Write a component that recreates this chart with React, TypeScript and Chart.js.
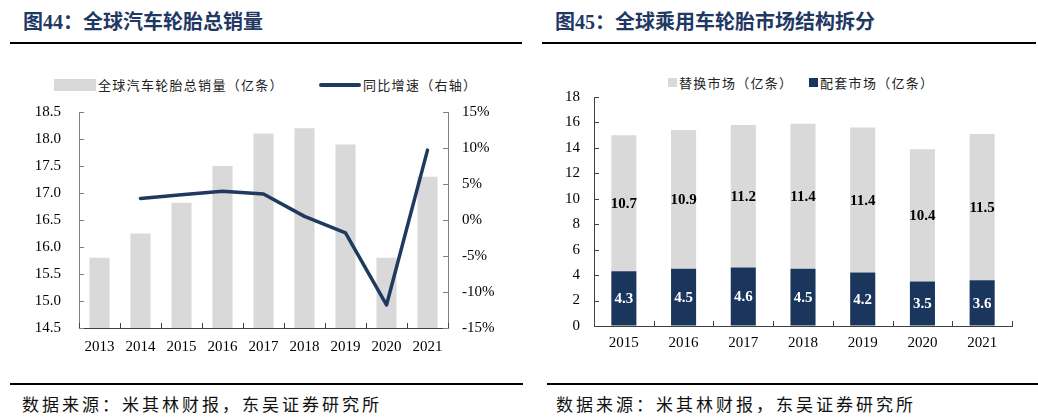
import React, { useEffect, useRef } from "react";
import { Chart, registerables } from "chart.js";

Chart.register(...registerables);

// ---------- Data ----------
const salesYears = ["2013", "2014", "2015", "2016", "2017", "2018", "2019", "2020", "2021"];
const totalSales = [15.8, 16.25, 16.82, 17.5, 18.1, 18.2, 17.9, 15.8, 17.3];
const salesGrowth = [null, 3.0, 3.5, 4.0, 3.6, 0.5, -1.8, -11.8, 9.7];

const marketYears = ["2015", "2016", "2017", "2018", "2019", "2020", "2021"];
const replacementMarket = [10.7, 10.9, 11.2, 11.4, 11.4, 10.4, 11.5];
const oemMarket = [4.3, 4.5, 4.6, 4.5, 4.2, 3.5, 3.6];

const title1 = "图44：全球汽车轮胎总销量";
const title2 = "图45：全球乘用车轮胎市场结构拆分";
const sourceText = "数据来源：米其林财报，东吴证券研究所";
const legendSales = "全球汽车轮胎总销量（亿条）";
const legendGrowth = "同比增速（右轴）";
const legendReplacement = "替换市场（亿条）";
const legendOem = "配套市场（亿条）";

// ---------- Styles ----------
const NAVY = "#1f3a5f";
const GREY = "#d9d9d9";
const SERIF = '"Liberation Serif", "Times New Roman", serif';
const CJK = '"Noto Sans CJK SC", "Noto Sans", sans-serif';

const inwardTicks = {
  id: "inwardTicks",
  afterDatasetsDraw(chart: any) {
    const ctx = chart.ctx;
    const len = 5;
    ctx.save();
    ctx.lineWidth = 1;
    Object.values(chart.scales).forEach((s: any) => {
      ctx.strokeStyle = s.options.border.color;
      ctx.beginPath();
      if (s.axis === "x") {
        const n = s.ticks.length;
        for (let i = 0; i <= n; i++) {
          const x = Math.round(s.getPixelForValue(i - 0.5)) + 0.5;
          ctx.moveTo(x, s.top);
          ctx.lineTo(x, s.top - len);
        }
      } else {
        const left = s.position === "left";
        s.ticks.forEach((_t: any, i: number) => {
          const y = Math.round(s.getPixelForTick(i)) + 0.5;
          const x = left ? s.right : s.left;
          ctx.moveTo(x, y);
          ctx.lineTo(left ? x + len : x - len, y);
        });
      }
      ctx.stroke();
    });
    ctx.restore();
  },
};

const barLabels = {
  id: "barLabels",
  afterDatasetsDraw(chart: any) {
    const ctx = chart.ctx;
    ctx.save();
    ctx.font = `bold 15px ${SERIF}`;
    ctx.textAlign = "center";
    ctx.textBaseline = "middle";
    chart.data.datasets.forEach((ds: any, di: number) => {
      const meta = chart.getDatasetMeta(di);
      ctx.fillStyle = ds.labelColor;
      meta.data.forEach((el: any, i: number) => {
        const p = el.getProps(["x", "y", "base"], true);
        ctx.fillText(ds.data[i].toFixed(1), p.x, (p.y + p.base) / 2 + 1);
      });
    });
    ctx.restore();
  },
};

function SalesChart() {
  const ref = useRef<HTMLCanvasElement | null>(null);
  useEffect(() => {
    if (!ref.current) return;
    const chart = new Chart(ref.current, {
      type: "bar",
      data: {
        labels: salesYears,
        datasets: [
          {
            type: "line",
            label: legendGrowth,
            data: salesGrowth as any,
            yAxisID: "y1",
            borderColor: NAVY,
            borderWidth: 3.5,
            pointRadius: 0,
            tension: 0,
            spanGaps: false,
            borderJoinStyle: "round",
            borderCapStyle: "round",
            order: 0,
          } as any,
          {
            type: "bar",
            label: legendSales,
            data: totalSales,
            yAxisID: "y",
            backgroundColor: GREY,
            barPercentage: 0.49,
            categoryPercentage: 1,
            order: 1,
          },
        ],
      },
      options: {
        responsive: false,
        animation: false,
        layout: { padding: { top: 0, bottom: 0, left: 0, right: 0 } },
        plugins: { legend: { display: false }, tooltip: { enabled: false } },
        scales: {
          x: {
            offset: true,
            grid: { display: true, drawOnChartArea: false, drawTicks: false, offset: true },
            border: { color: "#404040", width: 1 },
            ticks: { font: { family: SERIF, size: 15 }, color: "#000", padding: 10, maxRotation: 0 },
            afterFit: (s: any) => { s.height = 30; },
          },
          y: {
            position: "left",
            min: 14.5,
            max: 18.5,
            grid: { display: true, drawOnChartArea: false, drawTicks: false },
            border: { color: "#808080", width: 1 },
            ticks: {
              stepSize: 0.5,
              font: { family: SERIF, size: 15 },
              color: "#000",
              padding: 18,
              callback: (v: any) => Number(v).toFixed(1),
            },
            afterFit: (s: any) => { s.width = 69; },
          },
          y1: {
            position: "right",
            min: -15,
            max: 15,
            grid: { display: true, drawOnChartArea: false, drawTicks: false },
            border: { color: "#808080", width: 1 },
            ticks: {
              stepSize: 5,
              font: { family: SERIF, size: 15 },
              color: "#000",
              padding: 14,
              callback: (v: any) => `${v}%`,
            },
            afterFit: (s: any) => { s.width = 62; },
          },
        },
      },
      plugins: [inwardTicks],
    });
    return () => chart.destroy();
  }, []);
  return (
    <canvas
      ref={ref}
      width={500}
      height={273}
      style={{ position: "absolute", left: 10, top: 85, width: 500, height: 273 }}
    />
  );
}

function MarketChart() {
  const ref = useRef<HTMLCanvasElement | null>(null);
  useEffect(() => {
    if (!ref.current) return;
    const chart = new Chart(ref.current, {
      type: "bar",
      data: {
        labels: marketYears,
        datasets: [
          {
            label: legendOem,
            data: oemMarket,
            backgroundColor: "#1b365d",
            barPercentage: 0.42,
            categoryPercentage: 1,
            labelColor: "#ffffff",
          } as any,
          {
            label: legendReplacement,
            data: replacementMarket,
            backgroundColor: GREY,
            barPercentage: 0.42,
            categoryPercentage: 1,
            labelColor: "#000000",
          } as any,
        ],
      },
      options: {
        responsive: false,
        animation: false,
        layout: { padding: { top: 0, bottom: 0, left: 0, right: 18 } },
        plugins: { legend: { display: false }, tooltip: { enabled: false } },
        scales: {
          x: {
            stacked: true,
            offset: true,
            grid: { display: true, drawOnChartArea: false, drawTicks: false, offset: true },
            border: { color: "#404040", width: 1 },
            ticks: { font: { family: SERIF, size: 15 }, color: "#000", padding: 8, maxRotation: 0 },
            afterFit: (s: any) => { s.height = 30; },
          },
          y: {
            stacked: true,
            position: "left",
            min: 0,
            max: 18,
            grid: { display: true, drawOnChartArea: false, drawTicks: false },
            border: { color: "#404040", width: 1 },
            ticks: {
              stepSize: 2,
              font: { family: SERIF, size: 15 },
              color: "#000",
              padding: 14,
            },
            afterFit: (s: any) => { s.width = 44; },
          },
        },
      },
      plugins: [inwardTicks, barLabels],
    });
    return () => chart.destroy();
  }, []);
  return (
    <canvas
      ref={ref}
      width={480}
      height={282}
      style={{ position: "absolute", left: 550, top: 74, width: 480, height: 282 }}
    />
  );
}

const titleStyle: React.CSSProperties = {
  position: "absolute",
  top: 10,
  fontFamily: `${SERIF.split(",")[0]}, ${CJK}`,
  fontWeight: "bold",
  fontSize: 20,
  lineHeight: "24px",
  color: "#1f3864",
  whiteSpace: "nowrap",
};

const legendText: React.CSSProperties = {
  position: "absolute",
  fontFamily: CJK,
  fontSize: 13,
  lineHeight: "16px",
  letterSpacing: 1.3,
  color: "#222",
  whiteSpace: "nowrap",
};

const sourceStyle: React.CSSProperties = {
  position: "absolute",
  top: 393,
  fontFamily: CJK,
  fontSize: 17,
  lineHeight: "22px",
  letterSpacing: 3,
  color: "#111",
  whiteSpace: "nowrap",
};

function Rule({ left, width, top }: { left: number; width: number; top: number }) {
  return <div style={{ position: "absolute", left, width, top, height: 2, background: "#000" }} />;
}

export default function App() {
  return (
    <div
      style={{
        position: "absolute",
        left: 0,
        top: 0,
        width: 1038,
        height: 418,
        background: "#fff",
        overflow: "hidden",
      }}
    >
      <div style={{ ...titleStyle, left: 23 }}>{title1}</div>
      <div style={{ ...titleStyle, left: 555 }}>{title2}</div>
      <Rule left={10} width={512} top={42} />
      <Rule left={542} width={494} top={42} />

      {/* Left legend */}
      <div style={{ position: "absolute", left: 54, top: 79, width: 42, height: 12, background: GREY }} />
      <div style={{ ...legendText, left: 98, top: 77 }}>{legendSales}</div>
      <div
        style={{
          position: "absolute",
          left: 319,
          top: 83,
          width: 42,
          height: 4,
          borderRadius: 2,
          background: NAVY,
        }}
      />
      <div style={{ ...legendText, left: 363, top: 77 }}>{legendGrowth}</div>

      {/* Right legend */}
      <div style={{ position: "absolute", left: 668, top: 78, width: 9, height: 9, background: GREY }} />
      <div style={{ ...legendText, left: 679, top: 75 }}>{legendReplacement}</div>
      <div style={{ position: "absolute", left: 809, top: 78, width: 9, height: 9, background: "#1b365d" }} />
      <div style={{ ...legendText, left: 820, top: 75 }}>{legendOem}</div>

      <SalesChart />
      <MarketChart />

      <Rule left={10} width={513} top={383} />
      <Rule left={547} width={491} top={383} />
      <div style={{ ...sourceStyle, left: 22 }}>{sourceText}</div>
      <div style={{ ...sourceStyle, left: 556 }}>{sourceText}</div>
    </div>
  );
}
